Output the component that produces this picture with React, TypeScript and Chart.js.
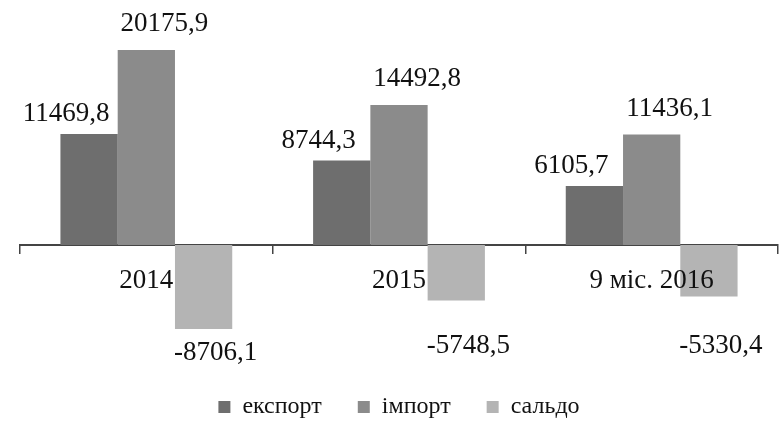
import React, { useEffect, useRef } from 'react';
import { Chart, registerables } from 'chart.js';

Chart.register(...registerables);

const categories = ['2014', '2015', '9 міс. 2016'];
const seriesNames = ['експорт', 'імпорт', 'сальдо'];
const exportValues = [11469.8, 8744.3, 6105.7];
const importValues = [20175.9, 14492.8, 11436.1];
const saldoValues = [-8706.1, -5748.5, -5330.4];
const seriesColors = ['#6e6e6e', '#8b8b8b', '#b4b4b4'];

const FONT = '"Liberation Serif", "Times New Roman", serif';

const fmt = (v: number) => v.toFixed(1).replace('.', ',');

const labelOffsets = [
  { dx: -23, dy: -20 },
  { dx: 18, dy: -26 },
  { dx: 12, dy: 24 },
];

const valueLabels = {
  id: 'valueLabels',
  afterDatasetsDraw(chart: any) {
    const ctx = chart.ctx;
    ctx.save();
    ctx.font = `27px ${FONT}`;
    ctx.fillStyle = '#111';
    ctx.textAlign = 'center';
    ctx.textBaseline = 'middle';
    chart.data.datasets.forEach((ds: any, i: number) => {
      const meta = chart.getDatasetMeta(i);
      const off = labelOffsets[i];
      meta.data.forEach((bar: any, j: number) => {
        const v = ds.data[j] as number;
        const p = bar.getProps(['x', 'y', 'base'], true);
        const lx = p.x + off.dx;
        const ly = v >= 0 ? p.y + off.dy : Math.max(p.y + off.dy, p.base + 101);
        ctx.fillText(fmt(v), lx, ly);
      });
    });
    ctx.restore();
  },
};

export default function App() {
  const ref = useRef<HTMLCanvasElement | null>(null);

  useEffect(() => {
    if (!ref.current) return;
    const chart = new Chart(ref.current, {
      type: 'bar',
      data: {
        labels: categories,
        datasets: [
          { label: seriesNames[0], data: exportValues, backgroundColor: seriesColors[0] },
          { label: seriesNames[1], data: importValues, backgroundColor: seriesColors[1] },
          { label: seriesNames[2], data: saldoValues, backgroundColor: seriesColors[2] },
        ],
      },
      options: {
        responsive: false,
        animation: false,
        layout: { padding: { top: 45, left: 20, right: 5, bottom: 0 } },
        datasets: {
          bar: { barPercentage: 1, categoryPercentage: 0.68 },
        },
        plugins: {
          tooltip: { enabled: false },
          legend: {
            position: 'bottom',
            labels: {
              font: { family: FONT, size: 24 },
              color: '#111',
              boxWidth: 12,
              boxHeight: 12,
              padding: 36,
            },
          },
        },
        scales: {
          x: {
            position: { y: 0 },
            grid: {
              display: true,
              drawOnChartArea: false,
              drawTicks: true,
              tickLength: 8,
              color: '#444',
              lineWidth: 1.5,
              offset: true,
            },
            border: { display: true, color: '#444', width: 2 },
            ticks: {
              z: 1,
              color: '#111',
              font: { family: FONT, size: 27 },
              padding: 12,
              maxRotation: 0,
            },
          },
          y: {
            display: false,
            min: -11800,
            max: 20690,
          },
        },
      },
      plugins: [valueLabels],
    });
    return () => chart.destroy();
  }, []);

  return (
    <div style={{ position: 'fixed', left: 0, top: 0, width: 783, height: 429, background: '#fff' }}>
      <canvas ref={ref} width={783} height={429} style={{ display: 'block' }} />
    </div>
  );
}
